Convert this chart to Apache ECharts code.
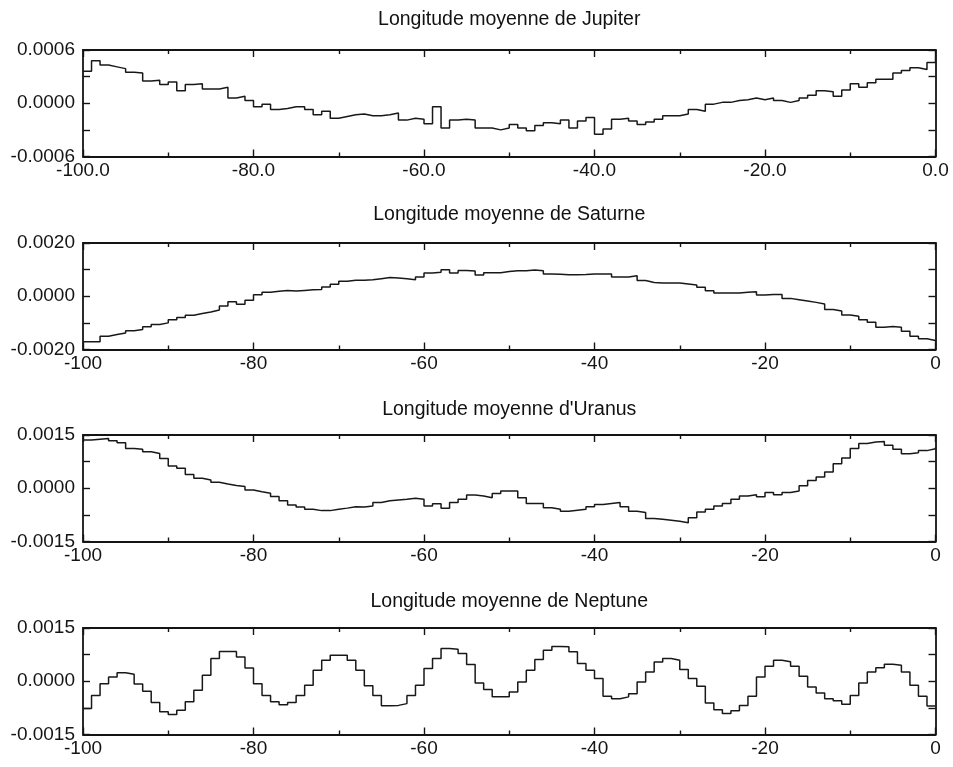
<!DOCTYPE html>
<html>
<head>
<meta charset="utf-8">
<script src="https://cdn.jsdelivr.net/npm/echarts@6/dist/echarts.min.js"></script>
<style>
html,body{margin:0;padding:0;background:#fff;}
#chart{width:953px;height:767px;}
</style>
</head>
<body>
<div id="chart"></div>
<script>
// x values (years)
const years = [-100,-99,-98,-97,-96,-95,-94,-93,-92,-91,-90,-89,-88,-87,-86,-85,-84,-83,-82,-81,
-80,-79,-78,-77,-76,-75,-74,-73,-72,-71,-70,-69,-68,-67,-66,-65,-64,-63,-62,-61,
-60,-59,-58,-57,-56,-55,-54,-53,-52,-51,-50,-49,-48,-47,-46,-45,-44,-43,-42,-41,
-40,-39,-38,-37,-36,-35,-34,-33,-32,-31,-30,-29,-28,-27,-26,-25,-24,-23,-22,-21,
-20,-19,-18,-17,-16,-15,-14,-13,-12,-11,-10,-9,-8,-7,-6,-5,-4,-3,-2,-1,0];

const titles = ['Longitude moyenne de Jupiter','Longitude moyenne de Saturne',
                'Longitude moyenne d\'Uranus','Longitude moyenne de Neptune'];

const jupiter = [0.00036,0.00048,0.00043,0.00041,0.00039,0.00035,0.00034,0.00025,0.00026,0.00021,
0.00024,0.00014,0.00021,0.00022,0.00016,0.00016,0.00018,0.00006,0.00008,0.00003,
-0.00004,-0.00001,-0.00007,-0.00006,-0.00004,-0.00004,-0.00007,-0.00013,-0.00009,-0.00017,
-0.00015,-0.00013,-0.00012,-0.00014,-0.00014,-0.00013,-0.00011,-0.00019,-0.00017,-0.00018,
-0.00023,-0.00004,-0.00028,-0.00019,-0.00018,-0.00019,-0.00028,-0.00028,-0.0003,-0.00028,
-0.00024,-0.00028,-0.00031,-0.00025,-0.00022,-0.00023,-0.00019,-0.00028,-0.0002,-0.00016,
-0.00035,-0.00029,-0.00018,-0.00017,-0.0002,-0.00024,-0.00021,-0.00018,-0.00014,-0.00014,
-0.00012,-0.00007,-0.00009,-0.00001,0.00001,0.00001,0.00003,0.00004,0.00006,0.00004,
0.00006,0.00003,0.00001,0.00003,0.00006,0.00009,0.00014,0.00013,0.00008,0.00015,
0.00022,0.00018,0.00023,0.00027,0.00027,0.00034,0.00037,0.0004,0.00038,0.00046,0.00052];

const saturn = [-0.00171,-0.00171,-0.0015,-0.00144,-0.00138,-0.0013,-0.00125,-0.00115,-0.00106,-0.001,
-0.00088,-0.0008,-0.00071,-0.00065,-0.00059,-0.00052,-0.00037,-0.00021,-0.0003,-0.00015,
0.00006,0.00015,0.00019,0.00022,0.0002,0.00022,0.00024,0.00025,0.00035,0.00045,
0.00056,0.0006,0.0006,0.00062,0.00066,0.0007,0.00069,0.00066,0.00062,0.00072,
0.00087,0.0009,0.001,0.00087,0.00097,0.00095,0.0008,0.00088,0.00088,0.00093,
0.00096,0.00096,0.00099,0.00096,0.00084,0.00083,0.00081,0.00081,0.00082,0.00084,
0.00084,0.00084,0.00072,0.00072,0.00077,0.00059,0.00052,0.0005,0.0005,0.0005,
0.00046,0.00042,0.00034,0.00021,0.00012,0.00012,0.00012,0.00015,0.00017,0.00005,
0.00007,0.00007,-0.00008,-0.00013,-0.00018,-0.00023,-0.00029,-0.0005,-0.00055,-0.0007,
-0.00075,-0.00088,-0.00098,-0.00116,-0.00114,-0.00116,-0.00131,-0.0015,-0.0016,-0.00166,-0.00173];

const uranus = [0.00136,0.00138,0.0014,0.00134,0.00128,0.00112,0.0011,0.00103,0.00098,0.00084,
0.00063,0.00056,0.00039,0.00028,0.00023,0.00017,0.00012,0.00008,0.00005,-0.00005,
-0.0001,-0.00014,-0.00023,-0.00035,-0.00047,-0.00053,-0.00059,-0.00063,-0.00063,-0.00059,
-0.00056,-0.00052,-0.00053,-0.0005,-0.0004,-0.00035,-0.00033,-0.00031,-0.00028,-0.00031,
-0.0005,-0.00044,-0.00056,-0.0004,-0.00031,-0.00019,-0.00022,-0.00027,-0.00015,-0.00008,
-0.00008,-0.00027,-0.00043,-0.00043,-0.00055,-0.00059,-0.00065,-0.00062,-0.00059,-0.00052,
-0.00046,-0.00043,-0.0004,-0.00052,-0.00065,-0.00068,-0.00085,-0.00087,-0.0009,-0.00093,
-0.00097,-0.00083,-0.00067,-0.00059,-0.0005,-0.00043,-0.00031,-0.00022,-0.00018,-0.00024,
-0.00012,-0.00018,-0.00012,-0.00008,0.00007,0.00022,0.00032,0.00046,0.00069,0.00085,
0.00112,0.00126,0.0013,0.00132,0.00121,0.0011,0.00097,0.001,0.00106,0.00111,0.00115];

const neptune = [-0.00077,-0.0004,-0.00007,0.00012,0.00024,0.0002,-0.00008,-0.00028,-0.0006,-0.00086,
-0.00094,-0.00082,-0.00058,-0.00025,0.00017,0.00064,0.00084,0.00084,0.00068,0.00037,
-0.00007,-0.0004,-0.00058,-0.00066,-0.0006,-0.0004,-0.00011,0.00031,0.00059,0.00073,
0.00073,0.00059,0.00031,-0.00013,-0.0004,-0.00069,-0.00068,-0.00063,-0.0004,-0.00011,
0.00036,0.00064,0.00092,0.0009,0.00078,0.00047,-0.00005,-0.00023,-0.00044,-0.00044,
-0.0003,-0.00002,0.00031,0.00061,0.00087,0.00098,0.00097,0.00083,0.0005,0.00031,
0.00008,-0.00042,-0.00049,-0.00044,-0.00035,-0.00002,0.00026,0.00054,0.00064,0.00059,
0.00033,0.00008,-0.00014,-0.00061,-0.0008,-0.00091,-0.00083,-0.00068,-0.00042,0.00012,
0.00042,0.00059,0.00055,0.00042,0.00014,-0.00016,-0.00033,-0.00049,-0.00055,-0.00065,
-0.0004,-0.00005,0.00026,0.00038,0.00048,0.00045,0.00026,-0.00011,-0.00042,-0.0007,-0.0007];

const seriesValues = [jupiter, saturn, uranus, neptune];
const yLimits = [0.0006, 0.0020, 0.0015, 0.0015];
const xDecimals = [1, 0, 0, 0];

// layout
const L = 83, R = 17.5;
const gridTops = [50, 243, 435, 628];
const gridH = 106.5;
const titleY = [20, 215, 410, 602];
const FONT = '"Liberation Sans", Arial, Helvetica, sans-serif';
const INK = '#141414';

const grids = [], xAxes = [], yAxes = [], series = [], graphics = [];
for (let i = 0; i < 4; i++) {
  grids.push({left: L, right: R, top: gridTops[i], height: gridH, containLabel: false});
  const ymax = yLimits[i];
  const half = ymax / 2;
  const dec = xDecimals[i];
  const xBase = {
    type: 'value', gridIndex: i, min: -100, max: 0, interval: 20,
    axisLine: {show: true, onZero: false, lineStyle: {color: INK, width: 1.8}},
    axisTick: {show: true, inside: true, length: 7, lineStyle: {color: INK, width: 1.4}},
    minorTick: {show: true, splitNumber: 2, length: 4, lineStyle: {color: INK, width: 1.4}},
    splitLine: {show: false}
  };
  xAxes.push(Object.assign({}, xBase, {
    position: 'bottom',
    axisLabel: {show: true, margin: 5, color: INK, fontSize: 19, fontFamily: FONT,
      formatter: v => dec ? v.toFixed(1) : String(Math.round(v))}
  }));
  xAxes.push(Object.assign({}, xBase, {position: 'top', axisLabel: {show: false}}));
  const yBase = {
    type: 'value', gridIndex: i, min: -ymax, max: ymax, interval: half,
    axisLine: {show: true, onZero: false, lineStyle: {color: INK, width: 1.8}},
    axisTick: {show: true, inside: true, length: 7, lineStyle: {color: INK, width: 1.4}},
    splitLine: {show: false}
  };
  yAxes.push(Object.assign({}, yBase, {
    position: 'left',
    axisLabel: {show: true, margin: 8, color: INK, fontSize: 19, fontFamily: FONT,
      formatter: v => {
        const k = Math.round(v / half);
        if (k % 2 !== 0) return '';
        if (Math.abs(v) < 1e-12) return '0.0000';
        return v.toFixed(4);
      }}
  }));
  yAxes.push(Object.assign({}, yBase, {position: 'right', axisLabel: {show: false}}));
  series.push({
    type: 'line', step: 'end', xAxisIndex: 2 * i, yAxisIndex: 2 * i,
    showSymbol: false, symbol: 'none', animation: false,
    lineStyle: {color: '#181818', width: 1.5},
    data: years.map((x, j) => [x, seriesValues[i][j]])
  });
  graphics.push({
    type: 'text', x: L + (953 - L - R) / 2, y: titleY[i],
    style: {text: titles[i], textAlign: 'center', textVerticalAlign: 'middle',
      fontSize: 19.5, fontFamily: FONT, fill: '#111'}
  });
}

const chart = echarts.init(document.getElementById('chart'), null, {renderer: 'canvas'});
chart.setOption({
  animation: false,
  backgroundColor: '#fff',
  grid: grids, xAxis: xAxes, yAxis: yAxes, series: series, graphic: graphics
});
</script>
</body>
</html>
